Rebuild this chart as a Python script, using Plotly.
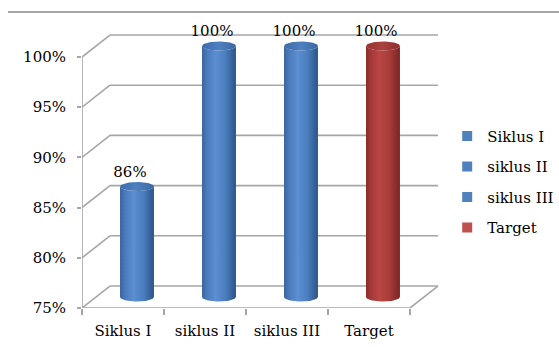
import numpy as np
import plotly.graph_objects as go

# ---- data ----
categories = ["Siklus I", "siklus II", "siklus III", "Target"]
values = [86, 100, 100, 100]
y_ticks = [75, 80, 85, 90, 95, 100]
y_ticktext = ["75%", "80%", "85%", "90%", "95%", "100%"]

# ---- style ----
FONT = dict(family="DejaVu Serif", size=15, color="#000000")
GRID = "#A6A6A6"
DX, DY = 0.341, 2.19          # 3D depth offset (category units, percent units)
RX, RY = 0.207, 0.45          # cylinder ellipse semi-axes
Y0 = y_ticks[0]
N = len(categories)

body_scales = {
    "blue": [[0, "#3A659E"], [0.15, "#4A7BBC"], [0.4, "#5B8FD2"], [0.7, "#4A7DBD"], [1, "#2C5386"]],
    "red": [[0, "#8A2C2A"], [0.15, "#A5393A"], [0.4, "#BA4642"], [0.7, "#A63B38"], [1, "#7A2523"]],
}
cap_scales = {
    "blue": [[0, "#3C6BA8"], [0.5, "#4E80C0"], [1, "#3A67A3"]],
    "red": [[0, "#973432"], [0.5, "#AA423F"], [1, "#8C2E2B"]],
}
legend_colors = {"blue": "#4F81BD", "red": "#C0504D"}
series_color = ["blue", "blue", "blue", "red"]

fig = go.Figure()

# ---- walls / gridlines ----
gx, gy = [], []
for t in y_ticks:
    # side wall diagonal
    gx += [0, DX, None]
    gy += [t, t + DY, None]
    # back wall line
    gx += [DX, N + DX, None]
    gy += [t + DY, t + DY, None]
# floor right edge + front edge + front value axis
gx += [N, N + DX, None, 0, N, None, 0, 0]
gy += [Y0, Y0 + DY, None, Y0, Y0, None, Y0, y_ticks[-1]]
fig.add_trace(go.Scatter(x=gx, y=gy, mode="lines", line=dict(color=GRID, width=1.6),
                         hoverinfo="skip", showlegend=False, cliponaxis=False))

# ---- cylinders ----
th_front = np.linspace(np.pi, 2 * np.pi, 40)
th_full = np.linspace(0, 2 * np.pi, 80)
for i, (cat, v) in enumerate(zip(categories, values)):
    cx = i + 0.5 + DX / 2
    base = Y0 + DY / 2
    top = v + DY / 2
    bx = np.concatenate([cx + RX * np.cos(th_front), cx + RX * np.cos(th_front[::-1])])
    by = np.concatenate([base + RY * np.sin(th_front), top + RY * np.sin(th_front[::-1])])
    c = series_color[i]
    fig.add_trace(go.Scatter(x=bx, y=by, mode="lines", fill="toself", line=dict(width=0),
                             fillgradient=dict(type="horizontal", colorscale=body_scales[c]),
                             hoverinfo="skip", showlegend=False, cliponaxis=False))
    fig.add_trace(go.Scatter(x=cx + RX * np.cos(th_full), y=top + RY * np.sin(th_full),
                             mode="lines", fill="toself", line=dict(width=0),
                             fillgradient=dict(type="horizontal", colorscale=cap_scales[c]),
                             hoverinfo="skip", showlegend=False, cliponaxis=False))

# ---- data labels ----
fig.add_trace(go.Scatter(
    x=[i + 0.5 + DX / 2 - 0.085 for i in range(N)],
    y=[v + DY / 2 + 1.34 for v in values],
    mode="text", text=[f"{v}%" for v in values], textfont=FONT,
    hoverinfo="skip", showlegend=False, cliponaxis=False))

# ---- legend entries ----
for i, cat in enumerate(categories):
    fig.add_trace(go.Scatter(x=[None], y=[None], mode="markers", name=cat,
                             legendgroup=cat,
                             marker=dict(symbol="square", size=10, color=legend_colors[series_color[i]])))

fig.update_layout(
    width=559, height=347,
    margin=dict(l=82, r=109, t=30, b=39, autoexpand=False),
    paper_bgcolor="white", plot_bgcolor="white",
    font=FONT,
    showlegend=True,
    legend=dict(xref="container", yref="container", x=0.80, y=0.655,
                xanchor="left", yanchor="top", tracegroupgap=8,
                font=FONT, bgcolor="rgba(0,0,0,0)"),
    xaxis=dict(range=[0, 368 / 82], tickvals=[i + 0.5 for i in range(N)], ticktext=categories,
               ticks="", showgrid=False, zeroline=False, showline=False,
               ticklabelstandoff=12, automargin=False,
               minor=dict(tickmode="array", tickvals=list(range(N + 1)), ticks="outside",
                          ticklen=6, tickcolor=GRID, tickwidth=1.6, showgrid=False)),
    yaxis=dict(range=[Y0, Y0 + 278 / 10.04], tickvals=y_ticks, ticktext=y_ticktext,
               ticks="outside", ticklen=4, tickcolor=GRID, tickwidth=1.6, automargin=False,
               showgrid=False, zeroline=False, showline=False, ticklabelstandoff=8),
    shapes=[dict(type="line", xref="paper", yref="paper", x0=-0.201, x1=1.3,
                 y0=1.0647, y1=1.0647, line=dict(color="#A6A6A6", width=2))],
)

fig.write_html("out.html")
